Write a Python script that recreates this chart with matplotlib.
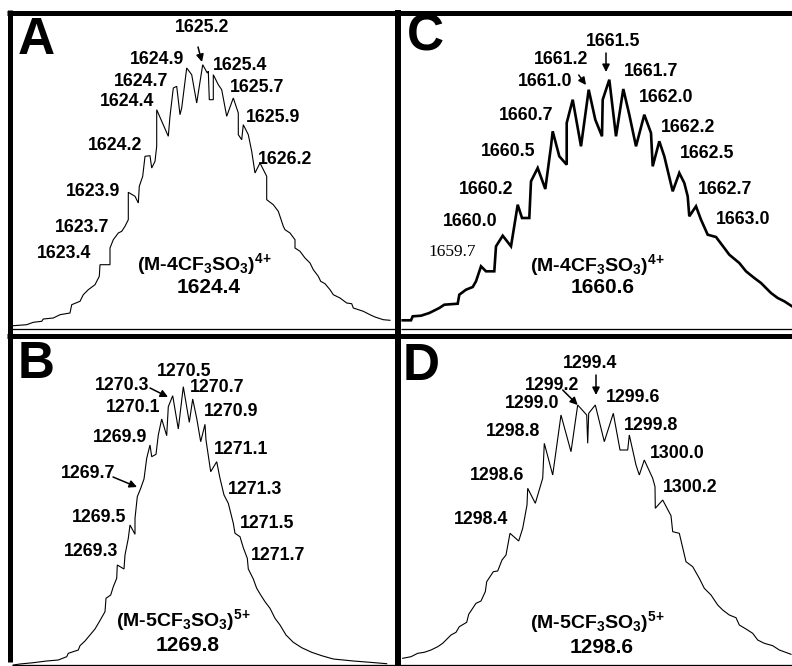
import matplotlib
matplotlib.use('Agg')
import matplotlib.pyplot as plt
from matplotlib.lines import Line2D

plt.rcParams['font.family'] = ['Liberation Sans', 'DejaVu Sans']
plt.rcParams['mathtext.fontset'] = 'custom'
plt.rcParams['mathtext.bf'] = 'Liberation Sans:bold'
plt.rcParams['mathtext.rm'] = 'Liberation Sans:bold'
plt.rcParams['mathtext.default'] = 'bf'

W, H = 792, 666

# ---- spectrum A : (M-4CF3SO3)4+
a_x = [13.3, 26.7, 33.3, 41.7, 43.3, 53.3, 60, 70, 71.7, 80, 83.3, 88.3, 95, 99.3, 100, 110, 110,
       113.3, 118.3, 121.7, 125, 128.3, 128.3, 135, 138.3, 139.3, 142.7, 145, 150, 151.7, 155,
       156.7, 156.7, 168.3, 170, 173.3, 176.7, 180, 181.7, 186.7, 191.7, 196.7, 202.7, 207.3,
       208.3, 209.3, 213.3, 213.3, 218.3, 221.7, 226.7, 233.3, 238.3, 238.3, 241.7, 243.3,
       248.3, 251.7, 255, 260, 266.7, 266.7, 273.3, 278.3, 283.3, 285, 290, 295, 295, 300, 305,
       310, 313.3, 318.3, 320.7, 325, 330, 333.3, 340, 346.7, 351.7, 353.3, 363.3, 370, 375,
       383.3, 390]
a_y = [2.3, 3.3, 5.7, 6.7, 9, 10, 13.3, 15, 23.3, 26.7, 33.3, 38.3, 43.3, 51.7, 63.3, 63.3, 80,
       88.3, 95, 96.7, 101.7, 108.3, 135.7, 131.7, 125, 141.7, 151.7, 171.7, 172.3, 160, 166.7,
       181.7, 218.3, 191.7, 211.7, 240, 241.7, 213.3, 220, 260, 253.3, 225, 263.3, 255,
       256.7, 228.3, 228.3, 253.3, 243.3, 238.3, 211.7, 230, 215, 193.3, 188.3, 203.3,
       193.3, 176.7, 155, 165, 151.7, 128.3, 123.3, 116.7, 101.7, 98.3, 95, 88.3, 80, 76.7, 70,
       65, 58.3, 51.7, 46.7, 44.3, 38.3, 33.3, 30, 25, 24.3, 20, 16.7, 13.3, 11,
       8.3, 7.7]
a_peaks = ['1625.2', '1624.9', '1625.4', '1624.7', '1625.7', '1624.4', '1625.9',
           '1624.2', '1626.2', '1623.9', '1623.7', '1623.4']
a_ion = r'(M-4CF$_3$SO$_3$)$^{4\!+}$'
a_mass = '1624.4'

# ---- spectrum B : (M-5CF3SO3)5+
b_x = [13.3, 20, 33.3, 46.7, 58.3, 66.7, 68.3, 78.3, 80, 85, 90, 95, 99.3, 105, 106, 110.7,
       113.3, 116.7, 117.3, 124, 125, 128.3, 130, 135, 135, 137.3, 140.7, 144, 146.7, 150,
       151.7, 156, 158.3, 161.7, 166.7, 168.3, 172.7, 178.3, 183.3, 189.3, 192.7, 196.7,
       200.7, 205, 206, 210.7, 216.7, 220, 224, 228.3, 233.3, 235, 240, 243.3, 247.3, 248.3,
       253.3, 256.7, 260.7, 265, 270, 275, 280, 286, 293.3, 301.7, 311.7, 321.7, 333.3,
       353.3, 370, 386.7]
b_y = [0, 1, 2.3, 4, 5, 8.3, 11.7, 15, 19.3, 24, 30, 36, 43.3, 53.3, 66.7, 70,
       78.3, 86.7, 100, 96, 110, 126.7, 140, 130.7, 146.7, 168.3, 176.7, 186, 206.7, 220,
       208.3, 210.7, 230, 246, 229.3, 258.3, 269.3, 236, 278.3, 242.7, 266, 246.7,
       223.3, 240.7, 225, 193.3, 203.3, 186.7, 170, 161.7, 141.7, 131.7, 128.3, 117.3, 106.7, 96,
       86, 76.7, 70, 63.3, 56.7, 46.7, 40, 30, 22.7, 17.3, 12.7, 9.3, 6,
       4, 2.7, 1.3]
b_peaks = ['1270.5', '1270.3', '1270.7', '1270.1', '1270.9', '1269.9', '1271.1',
           '1269.7', '1271.3', '1269.5', '1271.5', '1269.3', '1271.7']
b_ion = r'(M-5CF$_3$SO$_3$)$^{5\!+}$'
b_mass = '1269.8'

# ---- spectrum C : (M-4CF3SO3)4+
c_x = [402.7, 411, 412.7, 421, 429.3, 439.3, 444.3, 457.7, 459.3, 466, 472.7, 476, 481, 486,
       494.3, 496, 502.7, 511, 515.3, 517.7, 522, 529.3, 531, 537.7, 545.3, 551, 552.7, 559.3,
       566.7, 566.7, 572.7, 581, 588.7, 595.3, 602, 602.7, 609.3, 616, 623.3, 629.3, 636,
       644.3, 651, 652.7, 659.3, 664.3, 672.7, 679.3, 684.3, 687.7, 689.3, 696, 701, 707.7,
       716, 724.3, 729.3, 739.3, 746, 754.3, 761, 771, 777.7, 784.3, 792]
c_y = [7.7, 7.7, 11.7, 12.3, 15, 20, 23.3, 24.3, 33.3, 38.3, 41, 46.7, 61.7, 56.7,
       56.7, 81.7, 92.3, 81.7, 108.3, 123.3, 110, 110, 146.7, 160, 139, 181.7, 196.7, 171.7,
       163.3, 205, 228.3, 181.7, 238.3, 208.3, 191.7, 228.3, 248.3, 191.7, 239, 213.3, 181.7,
       213.3, 195, 161.7, 186.7, 171.7, 136.7, 155, 145, 131.7, 111.7, 121.7, 108.3, 93.3,
       91, 80, 73.3, 65, 56.7, 50, 45, 35, 30, 26.7, 21.7]
c_peaks = ['1661.5', '1661.2', '1661.7', '1661.0', '1662.0', '1660.7', '1662.2',
           '1660.5', '1662.5', '1660.2', '1662.7', '1660.0', '1663.0']
c_serif_peak = '1659.7'
c_ion = r'(M-4CF$_3$SO$_3$)$^{4\!+}$'
c_mass = '1660.6'

# ---- spectrum D : (M-5CF3SO3)5+
d_x = [402.7, 411, 417.7, 424.3, 431, 437.7, 442.7, 446, 451, 456, 459.3, 466.7, 468.7, 476,
       481, 485.3, 486.7, 493.3, 497.7, 502, 506, 510, 518.7, 522.7, 527, 527.7, 535.3, 542.7,
       544.3, 552.7, 561, 571, 577.7, 586.7, 587.7, 588.7, 595.3, 604.3, 613.3, 620, 627.7,
       629.3, 636, 639.3, 644.3, 652.7, 655, 655.3, 662.7, 671, 672.7, 679.3, 686, 692.7,
       699.3, 704.3, 711, 717.7, 722.7, 729.3, 736, 739.3, 746, 752.7, 757.7, 764.3, 772.7,
       779.3, 791]
d_y = [6.7, 8.3, 11.7, 12.7, 15, 18.3, 21.7, 25, 30, 32.7, 38.3, 42.7, 50.7, 61.7,
       64, 73.3, 83.3, 93.3, 94, 105, 110, 131.7, 124, 136.7, 160, 176.7, 161.7, 186.7,
       221.7, 190, 250, 213.3, 260, 250, 221.7, 251.7, 260, 223.3, 251.7, 215, 215,
       230, 200, 190, 205, 186.7, 178.3, 156.7, 165, 149.3, 133.3, 131.7, 103.3, 98.3,
       86.7, 76.7, 70, 60, 55, 50, 47.3, 40, 36, 31.7, 25, 21.7, 19.3,
       15, 10.7]
d_peaks = ['1299.4', '1299.2', '1299.0', '1299.6', '1298.8', '1299.8', '1300.0',
           '1298.6', '1300.2', '1298.4']
d_ion = r'(M-5CF$_3$SO$_3$)$^{5\!+}$'
d_mass = '1298.6'

# ---- layout (label anchor points, panel boxes in pixels)
a_pos = [(202, 300), (157, 269), (240, 262), (141, 247), (257, 240), (127, 227), (273, 211),
         (115, 182), (285, 168), (93, 137), (82, 100), (64, 75)]
b_pos = [(184, 293), (122, 279), (217, 277), (133, 258), (231, 253), (120, 227), (241, 215),
         (88, 192), (255, 175), (99, 148), (267, 142), (91, 114), (278, 110)]
c_pos = [(613, 286), (561, 268), (651, 256), (545, 246), (666, 230), (526, 213), (688, 201),
         (508, 176), (707, 175), (486, 138), (725, 138), (470, 107), (743, 108)]
d_pos = [(590, 302), (552, 280), (532, 262), (633, 267), (513, 233), (651, 240), (677, 212),
         (497, 190), (690, 177), (481, 145)]

panels = [
    # letter, x, y, lw, peaks, pos, ion, mass, ion baseline, mass baseline, letter_xy, arrows, box
    ('A', a_x, a_y, 0.8, a_peaks, a_pos, a_ion, a_mass, (204, 58), (209, 35), (36, 287),
     [((198, 281), (202, 266))], (12, 15, 395, 328)),
    ('C', c_x, c_y, 1.9, c_peaks, c_pos, c_ion, c_mass, (597, 57), (603, 35), (425, 291),
     [((578.7, 253), (586, 243)), ((606, 275), (606, 256))], (401, 15, 792, 328)),
    ('B', b_x, b_y, 0.8, b_peaks, b_pos, b_ion, b_mass, (183, 39), (188, 14), (36, 300),
     [((150, 277), (168, 268)), ((113, 188), (137, 178))], (12, 338, 395, 665)),
    ('D', d_x, d_y, 0.8, d_peaks, d_pos, d_ion, d_mass, (597, 37), (602, 12), (421, 299),
     [((562.7, 275), (577.7, 260)), ((596, 290), (596, 270))], (401, 338, 792, 665)),
]

fig = plt.figure(figsize=(W / 100, H / 100), dpi=100)
fig.patch.set_facecolor('white')

for (letter, xs, ys, lw, peaks, pos, ion, mass, ion_xy, mass_xy, let_xy,
     arrows, box) in panels:
    x0, y0, x1, y1 = box
    ax = fig.add_axes([x0 / W, 1 - y1 / H, (x1 - x0) / W, (y1 - y0) / H])
    ax.set_xlim(x0, x1)
    ax.set_ylim(0, y1 - y0)
    ax.axis('off')
    ax.plot(xs, ys, color='black', lw=lw, solid_joinstyle='miter', clip_on=False)
    for s, (px, py) in zip(peaks, pos):
        ax.text(px, py, s, ha='center', va='center', fontsize=12.8, fontweight='bold')
    ax.text(ion_xy[0], ion_xy[1], ion, ha='center', va='baseline', fontsize=14,
            fontweight='bold')
    ax.text(mass_xy[0], mass_xy[1], mass, ha='center', va='baseline', fontsize=15,
            fontweight='bold')
    ax.text(let_xy[0], let_xy[1], letter, ha='center', va='center', fontsize=37,
            fontweight='bold')
    for (sx, sy), (ex, ey) in arrows:
        ax.annotate('', xy=(ex, ey), xytext=(sx, sy),
                    arrowprops=dict(arrowstyle='-|>', color='black', lw=1.1,
                                    mutation_scale=11, shrinkA=0, shrinkB=0))
    if letter == 'C':
        ax.text(452, 76, c_serif_peak, ha='center', va='center', fontsize=12.5,
                family=['Liberation Serif', 'DejaVu Serif'])


def frame_line(xa, ya, xb, yb, px_w):
    fig.add_artist(Line2D([xa / W, xb / W], [1 - ya / H, 1 - yb / H],
                          transform=fig.transFigure, color='black',
                          lw=px_w * 0.72, solid_capstyle='butt'))


frame_line(7, 12.5, 792, 12.5, 5)      # top border
frame_line(9.5, 10, 9.5, 662, 5)       # left border
frame_line(398, 10, 398, 666, 6)       # middle vertical
frame_line(7, 335.5, 792, 335.5, 5)    # middle horizontal
frame_line(12, 328.5, 395, 328.5, 1.3)  # baselines
frame_line(401, 328.5, 792, 328.5, 1.3)
frame_line(12, 664.5, 792, 664.5, 1.3)

fig.savefig('out.png', dpi=100, facecolor='white')
print('done')
